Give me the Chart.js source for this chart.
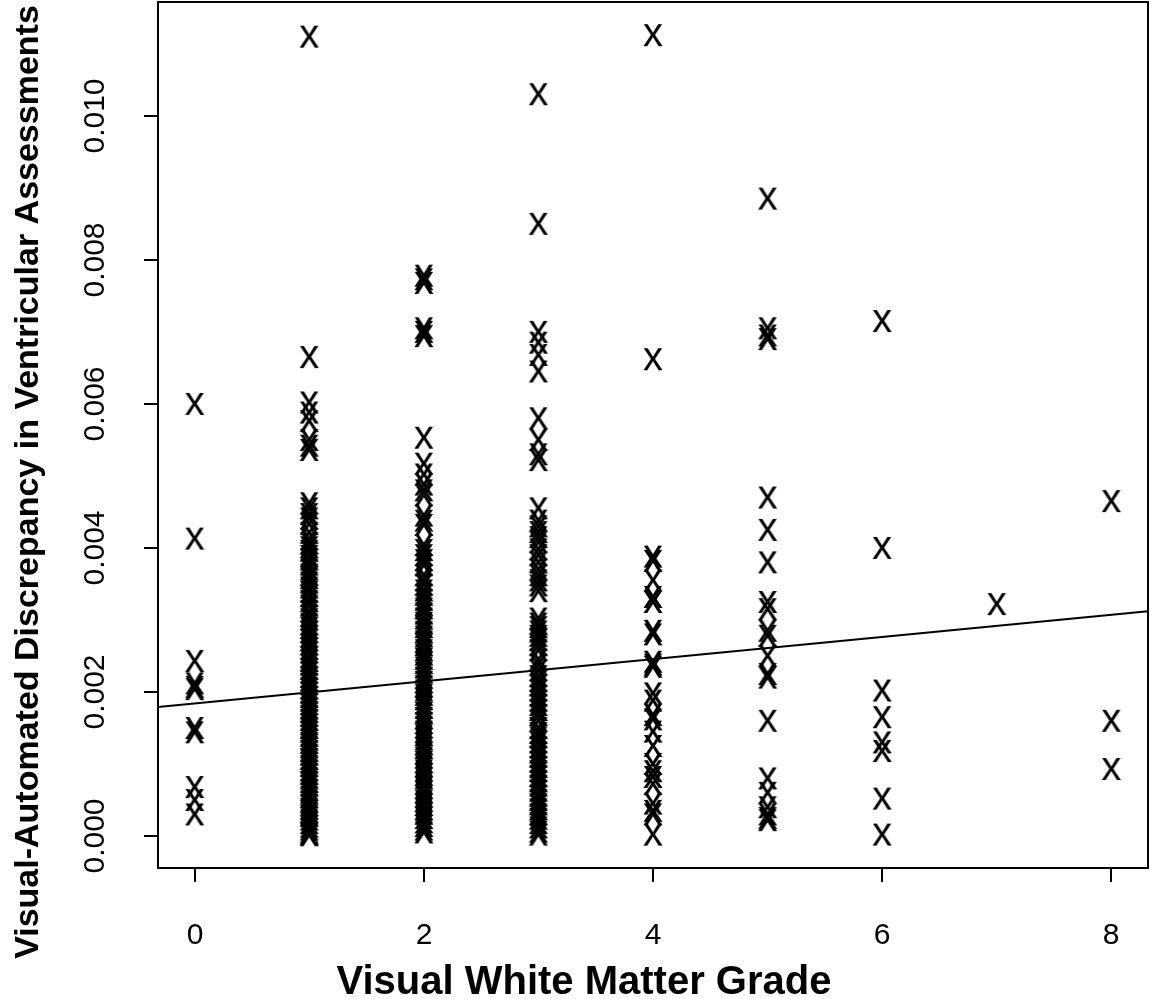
<!DOCTYPE html>
<html>
<head>
<meta charset="utf-8">
<script src="https://cdn.jsdelivr.net/npm/chart.js@4/dist/chart.umd.min.js"></script>
<style>
  body { margin: 0; background: #ffffff; }
  canvas { display: block; }
</style>
</head>
<body>
<canvas id="wmChart" width="1150" height="999"></canvas>
<script>
// discrepancy values per visual grade, in units of 0.001
const grade0 = [6.00, 4.13, 2.43, 2.12, 2.07, 2.04, 1.50, 1.44, 0.68, 0.50, 0.30];
const grade1 = [11.10, 6.65, 6.02, 5.88, 5.76, 5.50, 5.42, 5.36,
    4.62, 4.55, 4.47, 4.41, 4.33, 4.21, 4.12, 4.07, 4.01, 3.96, 3.89, 3.84, 3.77, 3.70,
    3.63, 3.58, 3.52, 3.45, 3.39, 3.33, 3.26, 3.20, 3.12, 3.06, 3.01, 2.94, 2.89, 2.83,
    2.77, 2.72, 2.66, 2.60, 2.55, 2.48, 2.43, 2.38, 2.32, 2.27, 2.21, 2.16, 2.11, 2.05,
    1.99, 1.93, 1.88, 1.83, 1.77, 1.72, 1.67, 1.61, 1.55, 1.50, 1.45, 1.39, 1.34, 1.29,
    1.23, 1.18, 1.13, 1.07, 1.02, 0.97, 0.91, 0.86, 0.80, 0.75, 0.70, 0.64, 0.59, 0.54,
    0.48, 0.43, 0.38, 0.33, 0.28, 0.23, 0.18, 0.13, 0.09, 0.05, 0.03, 0.01];
const grade2 = [7.78, 7.73, 7.68, 7.05, 7.00, 6.94, 5.53, 5.17, 5.02, 4.88, 4.80, 4.73,
    4.45, 4.38, 4.32, 4.04, 3.97, 3.90, 3.83, 3.76, 3.62, 3.55, 3.49, 3.41, 3.35, 3.28,
    3.21, 3.16, 3.09, 3.02, 2.96, 2.90, 2.83, 2.77, 2.70, 2.65, 2.58, 2.52, 2.46, 2.40,
    2.34, 2.27, 2.20, 2.14, 2.08, 2.02, 1.96, 1.90, 1.84, 1.78, 1.71, 1.64, 1.57, 1.51,
    1.45, 1.40, 1.34, 1.28, 1.22, 1.15, 1.09, 1.03, 0.97, 0.91, 0.85, 0.80, 0.73, 0.67,
    0.61, 0.55, 0.49, 0.43, 0.37, 0.31, 0.25, 0.19, 0.14, 0.09, 0.05];
const grade3 = [10.30, 8.50, 7.00, 6.85, 6.68, 6.45, 5.80, 5.50, 5.30, 5.22, 4.55, 4.38,
    4.30, 4.22, 4.15, 4.08, 3.98, 3.90, 3.80, 3.70, 3.62, 3.55, 3.48, 3.40, 3.02, 2.95,
    2.90, 2.84, 2.78, 2.72, 2.65, 2.58, 2.45, 2.38, 2.30, 2.22, 2.15, 2.09, 2.02, 1.95,
    1.88, 1.82, 1.75, 1.68, 1.60, 1.50, 1.43, 1.37, 1.30, 1.23, 1.16, 1.10, 1.03, 0.96,
    0.90, 0.83, 0.76, 0.70, 0.63, 0.56, 0.50, 0.44, 0.37, 0.30, 0.24, 0.18, 0.12, 0.06, 0.02];
const grade4 = [11.12, 6.62, 3.88, 3.82, 3.55, 3.32, 3.25, 2.85, 2.80, 2.42, 2.38, 2.35,
    1.98, 1.88, 1.68, 1.62, 1.45, 1.25, 1.00, 0.90, 0.82, 0.72, 0.45, 0.35, 0.30, 0.02];
const grade5 = [8.85, 7.05, 6.95, 6.90, 4.70, 4.25, 3.80, 3.25, 3.15, 2.85, 2.78, 2.50,
    2.25, 2.20, 1.60, 0.80, 0.60, 0.40, 0.30, 0.25, 0.22];
const grade6 = [7.15, 4.00, 2.02, 1.65, 1.30, 1.18, 0.52, 0.02];
const grade7 = [3.22];
const grade8 = [4.65, 1.60, 0.93];

const grades = [0, 1, 2, 3, 4, 5, 6, 7, 8];
const gradeValues = [grade0, grade1, grade2, grade3, grade4, grade5, grade6, grade7, grade8];

// fitted regression line
const fitIntercept = 0.00184;
const fitSlope = 0.000154;

const xTicks = [0, 2, 4, 6, 8];
const yTicks = [0, 0.002, 0.004, 0.006, 0.008, 0.010];
const xMin = -0.32, xMax = 8.32;
const yMin = -0.000444, yMax = 0.01158;

const xTitle = "Visual White Matter Grade";
const yTitle = "Visual-Automated Discrepancy in Ventricular Assessments";

const FONT = '"Liberation Sans", Arial, Helvetica, sans-serif';

function makeGlyph() {
    const c = document.createElement("canvas");
    c.width = 36;
    c.height = 36;
    const g = c.getContext("2d");
    g.fillStyle = "#000000";
    g.font = "40px " + FONT;
    g.textAlign = "center";
    g.textBaseline = "alphabetic";
    const m = g.measureText("x");
    const h = m.actualBoundingBoxAscent + m.actualBoundingBoxDescent;
    g.fillText("x", 18, 18 + h / 2 - m.actualBoundingBoxDescent);
    return c;
}

const points = [];
grades.forEach((gr, i) => {
    gradeValues[i].forEach((v) => points.push({ x: gr, y: v / 1000 }));
});

const fitLine = [
    { x: xMin, y: fitIntercept + fitSlope * xMin },
    { x: xMax, y: fitIntercept + fitSlope * xMax },
];

const axesPlugin = {
    id: "rAxes",
    afterDraw(chart) {
        const { ctx, chartArea } = chart;
        const xs = chart.scales.x;
        const ys = chart.scales.y;
        ctx.save();
        ctx.strokeStyle = "#000000";
        ctx.fillStyle = "#000000";
        ctx.lineWidth = 2;
        ctx.strokeRect(chartArea.left, chartArea.top,
            chartArea.right - chartArea.left, chartArea.bottom - chartArea.top);

        // x ticks
        ctx.font = "30px " + FONT;
        ctx.textAlign = "center";
        ctx.textBaseline = "middle";
        xTicks.forEach((t) => {
            const px = Math.round(xs.getPixelForValue(t));
            ctx.beginPath();
            ctx.moveTo(px, chartArea.bottom);
            ctx.lineTo(px, chartArea.bottom + 14);
            ctx.stroke();
            ctx.fillText(String(t), px, 936);
        });

        // y ticks
        yTicks.forEach((t) => {
            const py = Math.round(ys.getPixelForValue(t));
            ctx.beginPath();
            ctx.moveTo(chartArea.left, py);
            ctx.lineTo(chartArea.left - 14, py);
            ctx.stroke();
            ctx.save();
            ctx.translate(96, py);
            ctx.rotate(-Math.PI / 2);
            ctx.fillText(t.toFixed(3), 0, 0);
            ctx.restore();
        });

        // titles
        ctx.textBaseline = "alphabetic";
        ctx.font = "bold 40px " + FONT;
        ctx.fillText(xTitle, 584, 994);
        ctx.font = "bold 34px " + FONT;
        ctx.save();
        ctx.translate(38, 482);
        ctx.rotate(-Math.PI / 2);
        ctx.fillText(yTitle, 0, 0);
        ctx.restore();
        ctx.restore();
    },
};

const glyph = makeGlyph();

new Chart(document.getElementById("wmChart").getContext("2d"), {
    type: "scatter",
    data: {
        datasets: [
            {
                label: "discrepancy",
                data: points,
                pointStyle: glyph,
                pointRadius: 10,
                showLine: false,
            },
            {
                type: "line",
                label: "fit",
                data: fitLine,
                borderColor: "#000000",
                borderWidth: 2,
                pointRadius: 0,
                fill: false,
            },
        ],
    },
    options: {
        responsive: false,
        animation: false,
        devicePixelRatio: 1,
        layout: {
            autoPadding: false,
            padding: { left: 158, right: 2, top: 2, bottom: 131 },
        },
        plugins: {
            legend: { display: false },
            tooltip: { enabled: false },
        },
        scales: {
            x: { type: "linear", min: xMin, max: xMax, display: false },
            y: { type: "linear", min: yMin, max: yMax, display: false },
        },
    },
    plugins: [axesPlugin],
});
</script>
</body>
</html>
